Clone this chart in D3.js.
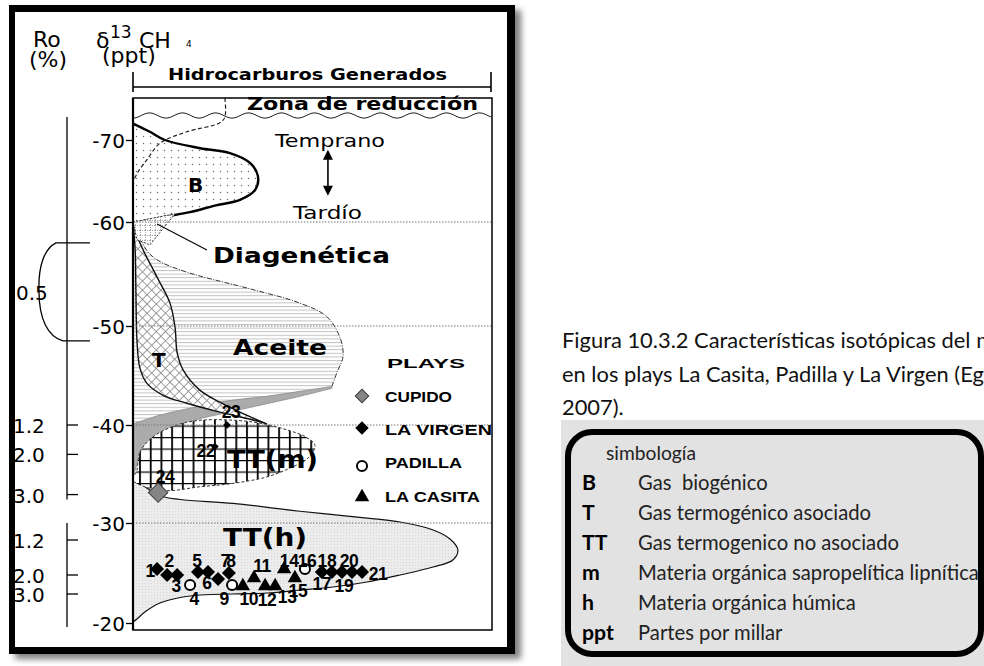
<!DOCTYPE html>
<html><head><meta charset="utf-8">
<script src="https://cdn.jsdelivr.net/npm/d3@7"></script>
<style>body{margin:0;background:#fff}svg{display:block}text{white-space:pre}</style>
</head><body>
<svg id="c" width="984" height="666"></svg>
<script>
// ================= DATA =================
const deltaTicks = [-70, -60, -50, -40, -30, -20];
const deltaGrid = [-60, -50, -40, -30];
const roTickLabels = ["1.2", "2.0", "3.0", "1.2", "2.0", "3.0"];
const roTickDelta = [-40.0, -37.0, -32.9, -28.3, -24.8, -22.9];
const roBraceLabel = "0.5";
const roBraceDelta = [-58.0, -48.5];
const roSegments = [[-72.8, -32.4], [-30.0, -19.6]];

// envelopes: [relative abundance (0-100), delta13C CH4 (ppt)]
const biogenicB = [[0,-72.0],[4.7,-71.0],[8.9,-70.0],[18.7,-69.0],[27.0,-68.4],[32.6,-67.2],[34.8,-65.6],[34.0,-63.9],[29.8,-62.7],[22.8,-62.0],[15.9,-61.2],[8.4,-60.6],[1.9,-60.0],[0,-59.8]];
const reductionLimit = [[25.6,-75.1],[25.6,-72.8],[24.2,-72.1],[15.0,-71.0],[7.5,-69.6],[3.9,-67.6],[1.4,-66.1],[0,-64.9]];
const diageneticZone = [[0,-60.0],[11.7,-61.0],[4.7,-57.8],[1.1,-58.3]];
const diageneticLeader = [[20.6,-57.3],[6.7,-59.8]];
const aceiteOuter = [[0,-60],[1.9,-58.5],[4.2,-57.1],[7.5,-56.2],[13.1,-55.4],[18.7,-54.8],[33.4,-53.5],[46.5,-52.2],[54.0,-50.9],[57.7,-48.8],[58.5,-46.9],[56.8,-45.3],[55.4,-43.9]];
const grayBandTop = [[55.4,-43.9],[46.5,-43.4],[37.3,-42.9],[25.6,-42.4],[15.9,-41.7],[7.5,-41.0],[0,-40.1]];
const grayBandBottom = [[55.4,-43.7],[46.5,-42.9],[35.4,-42.0],[25.6,-41.2],[17.3,-40.5],[10.3,-39.5],[5.3,-38.2],[1.9,-36.6],[0.6,-35.4],[0,-34.6]];
const tRight = [[0,-60],[1.9,-58.0],[6.7,-54.7],[10.3,-52.2],[11.7,-49.9],[12.3,-47.3],[13.9,-45.6],[18.7,-43.5],[24.2,-42.3],[29.8,-41.3],[37.3,-40.1]];
const tLeft = [[37.3,-40.1],[33.4,-40.5],[24.2,-41.3],[15.0,-42.2],[8.4,-43.0],[3.9,-44.2],[1.9,-45.8],[1.1,-48.6],[0.8,-53.5],[0.6,-57.3],[0,-60]];
const ttmEnvelope = [[1.1,-35.4],[1.9,-37.2],[5.6,-38.8],[12.3,-40.0],[19.5,-40.5],[33.4,-40.3],[42.9,-39.5],[48.5,-38.7],[50.7,-37.9],[48.7,-36.6],[43.7,-35.6],[37.3,-34.7],[27.0,-34.0],[18.7,-33.7],[9.5,-33.3],[3.3,-33.7],[0,-34.4]];
const tthEnvelope = [[0,-34.6],[7.5,-32.8],[13.1,-32.4],[27.9,-32.0],[46.5,-31.2],[65.2,-30.5],[74.4,-30.1],[83.6,-29.3],[88.3,-28.4],[90.5,-27.3],[89.1,-26.3],[83.6,-25.6],[74.4,-24.8],[65.2,-24.1],[55.7,-23.6],[46.5,-23.3],[37.3,-23.0],[18.7,-22.8],[13.9,-22.6],[7.5,-22.0],[3.3,-21.1],[1.1,-20.4],[0,-20.1]];
const maturityArrow = [[54.3,-68.8],[54.3,-63.2]];

// samples
const plays = ["CUPIDO", "LA VIRGEN", "PADILLA", "LA CASITA"];
const sampleIds  = [1,2,3,4,5,6,7,8,9,10,11,12,13,14,15,16,17,18,19,20,21,22,23,24];
const samplePlay = ["LA VIRGEN","LA VIRGEN","LA VIRGEN","PADILLA","LA VIRGEN","LA VIRGEN","LA VIRGEN","LA VIRGEN","PADILLA","LA CASITA","LA CASITA","LA CASITA","LA CASITA","LA CASITA","LA CASITA","PADILLA","LA VIRGEN","LA VIRGEN","LA VIRGEN","LA VIRGEN","LA VIRGEN","LA VIRGEN","LA VIRGEN","CUPIDO"];
const sampleX    = [6.7,9.5,12.3,15.9,18.1,20.9,23.7,26.7,27.6,30.6,33.7,36.8,39.6,42.1,45.1,47.9,52.6,55.4,58.2,61.0,63.8,22.8,26.2,7.0];
const sampleD13C = [-25.4,-24.8,-24.8,-23.8,-25.1,-25.1,-24.4,-25.0,-23.8,-23.7,-24.5,-23.7,-23.7,-25.4,-24.5,-25.4,-25.1,-25.1,-25.1,-25.1,-25.1,-37.8,-40.0,-33.1];

// caption and legend texts
const captionLines = ["Figura 10.3.2 Características isotópicas del metano", "en los plays La Casita, Padilla y La Virgen (Eguiluz,", "2007)."];
const legendTitle = "simbología";
const legendKeys = ["B", "T", "TT", "m", "h", "ppt"];
const legendDescs = ["Gas  biogénico", "Gas termogénico asociado", "Gas termogenico no asociado", "Materia orgánica sapropelítica lipnítica", "Materia orgánica húmica", "Partes por millar"];

// ================= LAYOUT =================
const labelOffset = {1:[-7,8],2:[2,-8],3:[-1,17],4:[4,20],5:[-1,-5],6:[-1,17],7:[7,-12],8:[2,-6],9:[-8,20],10:[6,19],11:[8,-6],12:[2,20],13:[12,17],14:[5,-2],15:[3,19],16:[2,-2],17:[0,18],18:[-5,-5],19:[2,20],20:[-3,-5],21:[16,8],22:[-9,10],23:[4,-7],24:[7,-10]};
const SANS = "DejaVu Sans, Verdana, sans-serif";
const ARIAL = "Liberation Sans, Arial, sans-serif";
const CAL = "Lato, Carlito, Calibri, sans-serif";

const svg = d3.select("#c");
const defs = svg.append("defs");

const x = d3.scaleLinear().domain([0, 100]).range([133, 492]);
const y = d3.scaleLinear().domain(deltaTicks).range([140, 222, 326, 425, 523, 623]);

// ---- defs ----
const sh = defs.append("filter").attr("id","sh").attr("x","-10%").attr("y","-10%").attr("width","125%").attr("height","125%");
sh.append("feDropShadow").attr("dx",6).attr("dy",5).attr("stdDeviation",3).attr("flood-color","#000").attr("flood-opacity",0.5);
function pat(id, w, h, bg, build, tr){
  const p = defs.append("pattern").attr("id",id).attr("patternUnits","userSpaceOnUse").attr("width",w).attr("height",h);
  if (tr) p.attr("patternTransform", tr);
  if (bg) p.append("rect").attr("width",w).attr("height",h).attr("fill",bg);
  build(p);
}
pat("dots",7,7,"#fff",p=>p.append("circle").attr("cx",3.5).attr("cy",3.5).attr("r",0.75).attr("fill","#6e6e6e"));
pat("hl",4,3.6,"#fff",p=>p.append("line").attr("x1",0).attr("x2",4).attr("y1",0.5).attr("y2",0.5).attr("stroke","#c2c2c2").attr("stroke-width",1));
pat("xh",6.5,6.5,"#fff",p=>{p.append("line").attr("x1",0).attr("x2",6.5).attr("y1",0.4).attr("y2",0.4).attr("stroke","#8c8c8c").attr("stroke-width",0.9);
  p.append("line").attr("y1",0).attr("y2",6.5).attr("x1",0.4).attr("x2",0.4).attr("stroke","#8c8c8c").attr("stroke-width",0.9);},"rotate(45)");
pat("grid",10.7,11.5,"#fff",p=>{p.append("line").attr("x1",0.9).attr("x2",0.9).attr("y1",0).attr("y2",11.5).attr("stroke","#000").attr("stroke-width",1.8);
  p.append("line").attr("x1",0).attr("x2",10.7).attr("y1",0.6).attr("y2",0.6).attr("stroke","#000").attr("stroke-width",1.2);});
pat("stip",3,3,"#ececec",p=>p.append("rect").attr("x",1).attr("y",1).attr("width",1).attr("height",1).attr("fill","#d6d6d6"));
pat("sgrid",5,5,"#fff",p=>{p.append("line").attr("x1",0).attr("x2",5).attr("y1",0.5).attr("y2",0.5).attr("stroke","#999").attr("stroke-width",0.8).attr("stroke-dasharray","1,1");
  p.append("line").attr("y1",0).attr("y2",5).attr("x1",0.5).attr("x2",0.5).attr("stroke","#999").attr("stroke-width",0.8).attr("stroke-dasharray","1,1");});

// ---- outer frame ----
svg.append("rect").attr("x",9).attr("y",5).attr("width",506).attr("height",649).attr("fill","#000").attr("filter","url(#sh)");
svg.append("rect").attr("x",15).attr("y",12).attr("width",492).attr("height",635).attr("fill","#fff");

const g = svg.append("g");
const smooth = d3.line().x(d=>x(d[0])).y(d=>y(d[1])).curve(d3.curveCatmullRom.alpha(0.5));
const smoothClosed = d3.line().x(d=>x(d[0])).y(d=>y(d[1])).curve(d3.curveCatmullRomClosed.alpha(0.5));
const straight = d3.line().x(d=>x(d[0])).y(d=>y(d[1]));
const cont = p => p.replace(/^M/, "L");

// plot box background
g.append("rect").attr("x",x(0)).attr("y",98).attr("width",x(100)-x(0)).attr("height",532).attr("fill","#fff");

// Aceite (horizontal hatch)
g.append("path").attr("d", smooth(aceiteOuter) + cont(smooth(grayBandTop)) + "Z").attr("fill","url(#hl)");
g.append("path").attr("d", smooth(aceiteOuter)).attr("fill","none").attr("stroke","#333").attr("stroke-width",1).attr("stroke-dasharray","5,1.5,1,1.5");

// gray band
g.append("path").attr("d", smooth(grayBandTop) + cont(smooth(grayBandBottom.slice().reverse())) + "Z")
  .attr("fill","#ababab").attr("stroke","#888").attr("stroke-width",0.8);

// TT(h)
g.append("path").attr("d", smooth(tthEnvelope) + "Z").attr("fill","url(#stip)").attr("stroke","none");
g.append("path").attr("d", smooth(tthEnvelope)).attr("fill","none").attr("stroke","#111").attr("stroke-width",1.2);

// T lens (crosshatch)
g.append("path").attr("d", smooth(tRight) + cont(smooth(tLeft)) + "Z").attr("fill","url(#xh)").attr("stroke","#111").attr("stroke-width",1.4);

// TT(m) grid
g.append("path").attr("d", smoothClosed(ttmEnvelope)).attr("fill","url(#grid)").attr("stroke","#333").attr("stroke-width",1).attr("stroke-dasharray","3,2");

// B biogenic
g.append("path").attr("d", smooth(biogenicB) + "Z").attr("fill","url(#dots)");
g.append("path").attr("d", smooth(biogenicB)).attr("fill","none").attr("stroke","#000").attr("stroke-width",2.4);

// reduction zone limit (dashed)
g.append("path").attr("d", smooth(reductionLimit)).attr("fill","none").attr("stroke","#222").attr("stroke-width",1.2).attr("stroke-dasharray","4,2.5");

// diagenetic zone
g.append("path").attr("d", straight(diageneticZone) + "Z").attr("fill","url(#sgrid)").attr("stroke","#333").attr("stroke-width",1).attr("stroke-dasharray","2,1.5");
g.append("path").attr("d", straight(diageneticLeader)).attr("stroke","#000").attr("stroke-width",1.1);

// wavy line under "Zona de reducción"
(function(){
  const pts = [];
  for (let px = x(0); px <= x(100) + 0.1; px += 2) {
    const ph = ((px - x(0)) % 33) / 33;
    pts.push([px, 115.5 + 2.6 * Math.cos(ph * 2 * Math.PI)]);
  }
  g.append("path").attr("d", d3.line()(pts)).attr("fill","none").attr("stroke","#222").attr("stroke-width",1);
})();

// dotted gridlines
g.selectAll(".grid").data(deltaGrid).join("line").attr("x1",x(0)).attr("x2",x(100))
  .attr("y1",d=>y(d)).attr("y2",d=>y(d)).attr("stroke","#777").attr("stroke-width",1).attr("stroke-dasharray","1.5,1.5");

// plot box frame
g.append("rect").attr("x",x(0)).attr("y",98).attr("width",x(100)-x(0)).attr("height",532).attr("fill","none").attr("stroke","#000").attr("stroke-width",1.5);
g.append("line").attr("x1",x(0)).attr("x2",x(0)).attr("y1",98).attr("y2",630).attr("stroke","#000").attr("stroke-width",2.2);

// delta axis
const ax = svg.append("g").attr("transform",`translate(${x(0)},0)`)
  .call(d3.axisLeft(y).tickValues(deltaTicks).tickFormat(d=>String(d)).tickSize(7).tickPadding(1));
ax.select(".domain").remove();
ax.selectAll(".tick line").attr("stroke","#000").attr("stroke-width",1.3);
ax.selectAll(".tick text").attr("font-family",SANS).attr("font-size",20).attr("fill","#000").attr("dy","0.36em");

// Ro axis
svg.selectAll(".roseg").data(roSegments).join("line").attr("x1",67).attr("x2",67)
  .attr("y1",d=>y(d[0])).attr("y2",d=>y(d[1])).attr("stroke","#000").attr("stroke-width",1.3);
svg.selectAll(".rotick").data(roTickDelta).join("line").attr("x1",67).attr("x2",78)
  .attr("y1",d=>y(d)).attr("y2",d=>y(d)).attr("stroke","#000").attr("stroke-width",1.3);
svg.selectAll(".rolab").data(roTickDelta).join("text").attr("x",13).attr("y",d=>y(d)+8)
  .text((d,i)=>roTickLabels[i]).attr("font-family",SANS).attr("font-size",20).attr("fill","#000");
(function(){
  const t = y(roBraceDelta[0]), b = y(roBraceDelta[1]), m = (t + b) / 2;
  const p = d3.path();
  p.moveTo(90, t); p.lineTo(56, t);
  p.bezierCurveTo(44, t + 6, 38, m - 25, 39, m);
  p.bezierCurveTo(39, m + 27, 48, b - 4, 63, b);
  p.lineTo(90, b);
  svg.append("path").attr("d", p.toString()).attr("fill","none").attr("stroke","#000").attr("stroke-width",1.3);
  svg.append("text").attr("x",16).attr("y",m+8).text(roBraceLabel).attr("font-family",SANS).attr("font-size",20);
})();

// header labels
const T = (txt, px, py, o) => {
  const t = svg.append("text").attr("x",px).attr("y",py).text(txt)
    .attr("font-family",o.f||SANS).attr("font-size",o.s||18).attr("font-weight",o.w||"normal").attr("fill","#000");
  if (o.len) t.attr("textLength",o.len).attr("lengthAdjust","spacingAndGlyphs");
  if (o.ls) t.attr("letter-spacing",o.ls);
  return t;
};
T("Ro",33,47,{s:22});
T("(%)",29,67,{s:22});
const dl = svg.append("text").attr("x",96).attr("y",48).attr("font-family",SANS).attr("font-size",22);
dl.append("tspan").text("δ");
dl.append("tspan").attr("x",110).attr("y",38).attr("font-size",17).text("13");
dl.append("tspan").attr("x",139).attr("y",48).text("CH");
dl.append("tspan").attr("x",186).attr("y",47).attr("font-size",9).text("4");
T("(ppt)",102,63,{s:22});

// Hidrocarburos generados bracket
svg.append("path").attr("d",`M${x(0)},72V92M${x(0)},87H${x(100)-1}M${x(100)-1},72V92`).attr("stroke","#000").attr("stroke-width",1.6).attr("fill","none");
T("Hidrocarburos Generados",168,80,{w:"bold",s:15,len:279});
T("Zona de reducción",247,110,{w:"bold",s:17,len:231});
T("Temprano",275,147,{s:18,len:110});
T("Tardío",293,219,{s:18,len:69});
T("B",188,192,{w:"bold",s:20});
T("Diagenética",213,263,{w:"bold",s:21,len:177});
T("Aceite",233,355,{w:"bold",s:22,len:94});
T("T",152,367,{w:"bold",s:20});
T("TT(m)",227,468,{w:"bold",s:24,len:91});
T("TT(h)",223,546,{w:"bold",s:24,len:84});
T("PLAYS",387,368,{w:"bold",s:13,f:ARIAL,len:78});

// maturity arrow
(function(){
  const ax0 = x(maturityArrow[0][0]), y0 = y(maturityArrow[0][1]), y1 = y(maturityArrow[1][1]);
  svg.append("line").attr("x1",ax0).attr("x2",ax0).attr("y1",y0+6).attr("y2",y1-6).attr("stroke","#000").attr("stroke-width",1.6);
  svg.append("path").attr("d",`M${ax0},${y0}l-5,10h10z M${ax0},${y1}l-5,-10h10z`).attr("fill","#000");
})();

// symbols
const symFor = (play, big) => {
  if (play === "PADILLA") return d3.symbol(d3.symbolCircle, 80)();
  if (play === "LA CASITA") return d3.symbol(d3.symbolTriangle, 90)();
  return d3.symbol(d3.symbolSquare, big || 98)();
};
const styleSym = (sel, play) => {
  if (play === "PADILLA") sel.attr("fill","#fff").attr("stroke","#000").attr("stroke-width",2);
  else if (play === "CUPIDO") sel.attr("fill","#858585").attr("stroke","#3a3a3a").attr("stroke-width",1);
  else sel.attr("fill","#000");
};
const rotFor = play => (play === "CUPIDO" || play === "LA VIRGEN") ? " rotate(45)" : "";

// in-plot legend
const legY = [396, 428, 466, 497], legBase = [402, 435, 468, 502], legLen = [67, 107, 77, 95];
plays.forEach((p, i) => {
  const s = svg.append("path").attr("d", symFor(p, 90)).attr("transform",`translate(362,${legY[i]})${rotFor(p)}`);
  styleSym(s, p);
  T(p, 385, legBase[i], {w:"bold", s:14, f:ARIAL, len:legLen[i]});
});

// sample markers
const samples = sampleIds.map((id, i) => ({id, play: samplePlay[i], x: sampleX[i], d: sampleD13C[i]}));
samples.forEach(s => {
  const size = s.id === 24 ? 190 : (s.id === 22 || s.id === 23 ? 30 : 98);
  const p = svg.append("path").attr("d", symFor(s.play, size))
    .attr("transform",`translate(${x(s.x)},${y(s.d)})${rotFor(s.play)}`);
  styleSym(p, s.play);
});
samples.forEach(s => {
  const o = labelOffset[s.id];
  svg.append("text").attr("x", x(s.x) + o[0]).attr("y", y(s.d) + o[1]).attr("text-anchor","middle")
    .attr("font-family",ARIAL).attr("font-weight","bold").attr("font-size",17.5).attr("letter-spacing",-0.4).text(s.id);
});

// ================= caption & symbology =================
function fit(text, family, weight, target, start){
  const t = svg.append("text").attr("font-family",family).attr("font-weight",weight).attr("font-size",start).text(text);
  const w = t.node().getComputedTextLength(); t.remove();
  return start * target / w;
}
const capSize = fit("Figura 10.3.2 Características isotópicas del", CAL, "normal", 409, 20);
captionLines.forEach((l, i) => {
  svg.append("text").attr("x",562).attr("y",348 + i*33.5).attr("font-family",CAL).attr("font-size",capSize).attr("fill","#111").text(l);
});
svg.append("rect").attr("x",561).attr("y",420).attr("width",423).attr("height",246).attr("fill","#e2e2e2");
svg.append("rect").attr("x",568).attr("y",432).attr("width",413).attr("height",222).attr("rx",24).attr("fill","none").attr("stroke","#000").attr("stroke-width",6);
const descSize = fit("Materia orgánica sapropelítica lipnítica", CAL, "normal", 341, 20);
svg.append("text").attr("x",606).attr("y",460).attr("font-family",CAL).attr("font-size",descSize*0.95).attr("fill","#222").text(legendTitle);
legendKeys.forEach((k, i) => {
  svg.append("text").attr("x",582).attr("y",490 + i*30).attr("font-family",CAL).attr("font-weight","bold").attr("font-size",descSize*1.05).attr("fill","#000").text(k);
  svg.append("text").attr("x",638).attr("y",490 + i*30).attr("font-family",CAL).attr("font-size",descSize).attr("fill","#222").text(legendDescs[i]);
});
</script>
</body></html>
